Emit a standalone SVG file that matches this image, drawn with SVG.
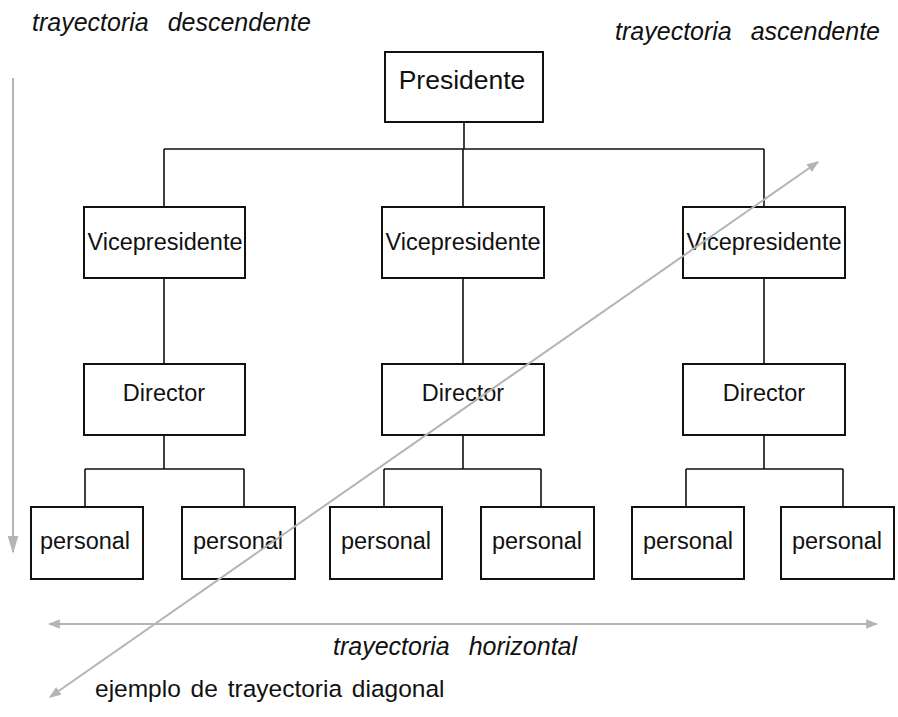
<svg xmlns="http://www.w3.org/2000/svg" width="898" height="717" viewBox="0 0 898 717">
  <style>
    .box { fill: #ffffff; stroke: #111111; stroke-width: 2; }
    .lbl { font-family: "Liberation Sans", Arial, sans-serif; font-size: 23.5px; fill: #111111; text-anchor: middle; }
    .lbl.top { font-size: 26.5px; }
    .cap { font-family: "Liberation Sans", Arial, sans-serif; font-size: 25px; fill: #111111; font-style: italic; word-spacing: 12px; }
    .link { fill: none; stroke: #111111; stroke-width: 1.6; }
    .flow { fill: none; stroke: #b4b4b4; stroke-width: 2; }
  </style>
  <defs>
    <marker id="head" viewBox="0 0 10 10" refX="9" refY="5" markerWidth="6" markerHeight="6" orient="auto-start-reverse" markerUnits="strokeWidth">
      <path d="M0,1 L10,5 L0,9 z" fill="#b4b4b4"/>
    </marker>
    <marker id="headThin" viewBox="0 0 10 10" refX="9" refY="5" markerWidth="9" markerHeight="9" orient="auto" markerUnits="strokeWidth">
      <path d="M0,2 L10,5 L0,8 z" fill="#b4b4b4"/>
    </marker>
  </defs>

  <!-- org chart links -->
  <g id="connectors">
    <path class="link" d="M464,122 V149 M164,149 H764 M164,149 V207 M463,149 V207 M764,149 V207"/>
    <path class="link" d="M164,278 V364 M463,278 V364 M764,278 V364"/>
    <path class="link" d="M164,435 V469 M85,469 H244 M85,469 V507 M244,469 V507"/>
    <path class="link" d="M463,435 V469 M384,469 H541 M384,469 V507 M541,469 V507"/>
    <path class="link" d="M764,435 V469 M686,469 H843 M686,469 V507 M843,469 V507"/>
  </g>

  <g id="presidente">
    <rect class="box" x="385" y="52" width="158" height="70"/>
    <text class="lbl top" x="462" y="89">Presidente</text>
  </g>

  <g id="vp1">
    <rect class="box" x="84" y="207" width="161" height="71"/>
    <text class="lbl" x="165" y="250">Vicepresidente</text>
  </g>
  <g id="vp2">
    <rect class="box" x="382" y="207" width="162" height="71"/>
    <text class="lbl" x="463" y="250">Vicepresidente</text>
  </g>
  <g id="vp3">
    <rect class="box" x="683" y="207" width="162" height="71"/>
    <text class="lbl" x="764" y="250">Vicepresidente</text>
  </g>

  <g id="dir1">
    <rect class="box" x="84" y="364" width="161" height="71"/>
    <text class="lbl" x="164" y="401">Director</text>
  </g>
  <g id="dir2">
    <rect class="box" x="382" y="364" width="162" height="71"/>
    <text class="lbl" x="463" y="401">Director</text>
  </g>
  <g id="dir3">
    <rect class="box" x="683" y="364" width="162" height="71"/>
    <text class="lbl" x="764" y="401">Director</text>
  </g>

  <g id="p1">
    <rect class="box" x="31" y="507" width="112" height="72"/>
    <text class="lbl" x="85" y="549">personal</text>
  </g>
  <g id="p2">
    <rect class="box" x="182" y="507" width="113" height="72"/>
    <text class="lbl" x="238" y="549">personal</text>
  </g>
  <g id="p3">
    <rect class="box" x="330" y="507" width="112" height="72"/>
    <text class="lbl" x="386" y="549">personal</text>
  </g>
  <g id="p4">
    <rect class="box" x="481" y="507" width="113" height="72"/>
    <text class="lbl" x="537" y="549">personal</text>
  </g>
  <g id="p5">
    <rect class="box" x="632" y="507" width="112" height="72"/>
    <text class="lbl" x="688" y="549">personal</text>
  </g>
  <g id="p6">
    <rect class="box" x="781" y="507" width="113" height="72"/>
    <text class="lbl" x="837" y="549">personal</text>
  </g>

  <!-- communication flows -->
  <g id="flows">
    <line class="flow" x1="13" y1="78" x2="13" y2="552" stroke-width="1.5" marker-end="url(#headThin)"/>
    <line class="flow" x1="49" y1="624" x2="877" y2="624" marker-start="url(#head)" marker-end="url(#head)"/>
    <line class="flow" x1="50" y1="697" x2="818" y2="162" marker-start="url(#head)" marker-end="url(#head)"/>
  </g>

  <g id="captions">
    <text class="cap" x="32" y="31">trayectoria descendente</text>
    <text class="cap" x="880" y="40" text-anchor="end">trayectoria ascendente</text>
    <text class="cap" x="333" y="655">trayectoria horizontal</text>
    <text x="95" y="697" font-family="Liberation Sans, Arial, sans-serif" font-size="24.5px" fill="#111111" word-spacing="3px">ejemplo de trayectoria diagonal</text>
  </g>
</svg>
